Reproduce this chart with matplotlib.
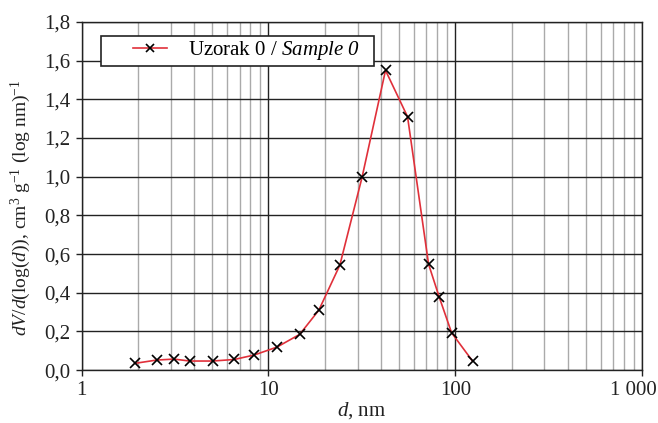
import matplotlib
matplotlib.use("Agg")
import matplotlib.pyplot as plt
from matplotlib.patches import Rectangle
from matplotlib.transforms import ScaledTranslation
from matplotlib.ticker import FixedLocator, FixedFormatter, LogLocator, NullFormatter

# --------------------------
# Données
# --------------------------
diameter_nm = [1.93, 2.52, 3.12, 3.80, 5.02, 6.56, 8.38, 11.1, 14.7, 18.6,
               24.1, 31.7, 42.3, 55.5, 71.9, 81.9, 95.5, 123.6]
dv_dlogd = [0.035, 0.052, 0.057, 0.047, 0.047, 0.055, 0.078, 0.119, 0.185, 0.31,
            0.543, 0.998, 1.55, 1.31, 0.548, 0.379, 0.193, 0.047]

y_ticks = [0.0, 0.2, 0.4, 0.6, 0.8, 1.0, 1.2, 1.4, 1.6, 1.8]
y_tick_labels = ["0,0", "0,2", "0,4", "0,6", "0,8", "1,0", "1,2", "1,4", "1,6", "1,8"]
x_ticks = [1, 10, 100, 1000]
x_tick_labels = ["1", "10", "100", "1 000"]

# --------------------------
# Style
# --------------------------
FS = 15
TXT = "#222222"
plt.rcParams["font.family"] = "Liberation Serif"
plt.rcParams["mathtext.fontset"] = "custom"
plt.rcParams["mathtext.rm"] = "Liberation Serif"
plt.rcParams["mathtext.it"] = "Liberation Serif:italic"
plt.rcParams["mathtext.sf"] = "Liberation Serif:italic"  # pour l'italique avec chiffres

fig = plt.figure(figsize=(6.58, 4.23), dpi=100)
ax = fig.add_axes([0.124, 0.125, 0.852, 0.823])

ax.plot(diameter_nm, dv_dlogd, color="#e0303a", lw=1.2, marker="x",
        mec="black", mew=1.2, ms=7, label=r"Uzorak 0 / $\mathsf{Sample\ 0}$", zorder=3)

ax.set_xscale("log")
ax.set_xlim(1, 1000)
ax.set_ylim(0, 1.8)

ax.xaxis.set_major_locator(FixedLocator(x_ticks))
ax.xaxis.set_major_formatter(FixedFormatter(x_tick_labels))
ax.xaxis.set_minor_locator(LogLocator(base=10, subs=range(2, 10)))
ax.xaxis.set_minor_formatter(NullFormatter())
ax.yaxis.set_major_locator(FixedLocator(y_ticks))
ax.yaxis.set_major_formatter(FixedFormatter(y_tick_labels))

ax.grid(which="major", color=TXT, lw=1.0)
ax.grid(which="minor", axis="x", color="#aaaaaa", lw=1.0)
ax.set_axisbelow(True)
for s in ax.spines.values():
    s.set_color(TXT)
    s.set_linewidth(1.0)

ax.tick_params(which="major", direction="out", length=4, width=1.0, pad=4,
               labelsize=FS, colors=TXT, labelcolor=TXT)
ax.tick_params(which="minor", length=0)

# le dernier label "1 000" est décalé pour rester dans l'image
last = ax.get_xticklabels()[-1]
last.set_horizontalalignment("right")
last.set_transform(last.get_transform() + ScaledTranslation(0.15, 0, fig.dpi_scale_trans))

ax.set_xlabel(r"$d$, nm", fontsize=FS, color=TXT, labelpad=0)
ax.set_ylabel(r"$dV/d$(log($d$)), cm$^3$ g$^{-1}$ (log nm)$^{-1}$",
              fontsize=14, color=TXT)
ax.yaxis.set_label_coords(-0.086, 0.466)

# --------------------------
# Légende (cadre dessiné à part)
# --------------------------
box = Rectangle((0.0344, 0.8736), 0.487, 0.0862, transform=ax.transAxes,
                facecolor="white", edgecolor=TXT, lw=1.2, zorder=4, clip_on=False)
ax.add_patch(box)
leg = ax.legend(loc="center left", bbox_to_anchor=(0.0915, 0.9167), fontsize=FS,
                frameon=False, borderpad=0, borderaxespad=0,
                handlelength=1.63, handletextpad=1.0)
leg.set_zorder(5)
leg.legend_handles[0].set_markersize(6)

fig.savefig("out.png", dpi=100)
